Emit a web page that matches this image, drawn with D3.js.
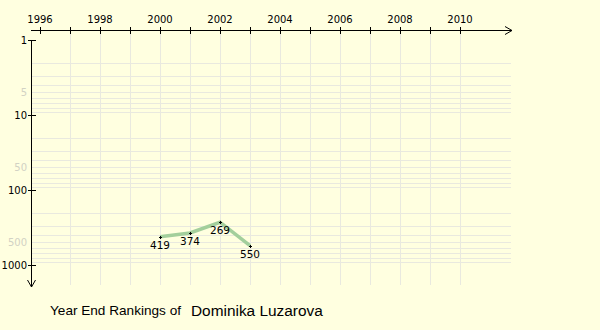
<!DOCTYPE html>
<html><head><meta charset="utf-8">
<script src="https://cdn.jsdelivr.net/npm/d3@7"></script>
<style>body{margin:0;background:#ffffe0;}svg{display:block;}</style>
</head><body>
<script>
const years = [2000, 2001, 2002, 2003];
const ranks = [419, 374, 269, 550];
const yearTicks = [1996, 1998, 2000, 2002, 2004, 2006, 2008, 2010];
const rankTicksMajor = [1, 10, 100, 1000];
const rankTicksMinor = [5, 50, 500];
const playerName = "Dominika Luzarova";
const titleText = "Year End Rankings of";

const W = 600, H = 330;
const svg = d3.select("body").append("svg").attr("width", W).attr("height", H);
svg.append("rect").attr("width", W).attr("height", H).attr("fill", "#ffffe0");

const x = d3.scaleLinear().domain([1996, 2010]).range([40, 460]);
const y = d3.scaleLog().domain([1, 1000]).range([40, 265]);
const axisX = 31, axisY = 30;

// grid
const grid = svg.append("g").attr("stroke", "#e9e9df").attr("stroke-width", 1);
const gridRanks = [];
[1, 10, 100].forEach(d => { for (let k = 2; k <= 9; k++) gridRanks.push(d * k); });
grid.selectAll("line.h").data(gridRanks).join("line")
  .attr("x1", axisX).attr("x2", 511)
  .attr("y1", d => Math.round(y(d)) + 0.5).attr("y2", d => Math.round(y(d)) + 0.5);
grid.selectAll("line.v").data(d3.range(1997, 2011)).join("line")
  .attr("x1", d => Math.round(x(d)) + 0.5).attr("x2", d => Math.round(x(d)) + 0.5)
  .attr("y1", axisY).attr("y2", 285);

// x axis
const gx = svg.append("g").attr("stroke", "#000");
gx.append("line").attr("x1", axisX).attr("x2", 512).attr("y1", axisY + 0.5).attr("y2", axisY + 0.5);
gx.append("path").attr("d", `M505,${axisY - 3.5} L512,${axisY + 0.5} L505,${axisY + 4.5}`).attr("fill", "none");
gx.selectAll("line.t").data(d3.range(1996, 2011)).join("line")
  .attr("x1", d => Math.round(x(d)) + 0.5).attr("x2", d => Math.round(x(d)) + 0.5)
  .attr("y1", axisY - 3).attr("y2", axisY + 4);
svg.append("g").selectAll("text").data(yearTicks).join("text")
  .attr("x", d => x(d)).attr("y", 23).attr("text-anchor", "middle")
  .attr("font-family", "DejaVu Sans, Verdana, sans-serif").attr("font-size", 10)
  .attr("fill", "#000").text(d => d);

// y axis
const gy = svg.append("g").attr("stroke", "#000");
gy.append("line").attr("x1", axisX + 0.5).attr("x2", axisX + 0.5).attr("y1", 40).attr("y2", 287);
gy.append("path").attr("d", `M${axisX - 3.5},280 L${axisX + 0.5},287 L${axisX + 4.5},280`).attr("fill", "none");
gy.selectAll("line.t").data(rankTicksMajor).join("line")
  .attr("x1", axisX - 3).attr("x2", axisX + 5)
  .attr("y1", d => Math.round(y(d)) + 0.5).attr("y2", d => Math.round(y(d)) + 0.5);
svg.append("g").selectAll("text").data(rankTicksMajor).join("text")
  .attr("x", 27).attr("y", d => y(d) + 4).attr("text-anchor", "end")
  .attr("font-family", "DejaVu Sans, Verdana, sans-serif").attr("font-size", 10)
  .attr("fill", "#000").text(d => d);
svg.append("g").selectAll("text").data(rankTicksMinor).join("text")
  .attr("x", 27).attr("y", d => y(d) + 4).attr("text-anchor", "end")
  .attr("font-family", "DejaVu Sans, Verdana, sans-serif").attr("font-size", 10)
  .attr("fill", "#d2d2c4").text(d => d);

// data line
const pts = years.map((yr, i) => ({ yr, r: ranks[i] }));
svg.append("path").datum(pts)
  .attr("d", d3.line().x(d => x(d.yr)).y(d => y(d.r)))
  .attr("fill", "none").attr("stroke", "#a3cf9c").attr("stroke-width", 3.5);
const mk = svg.append("g").attr("stroke", "#000").attr("stroke-width", 1);
mk.selectAll("path").data(pts).join("path")
  .attr("d", d => { const px = Math.round(x(d.yr)) + 0.5, py = Math.round(y(d.r)) + 0.5;
    return `M${px - 1.5},${py}H${px + 1.5}M${px},${py - 1.5}V${py + 1.5}`; });
svg.append("g").selectAll("text").data(pts).join("text")
  .attr("x", d => x(d.yr)).attr("y", d => y(d.r) + 12).attr("text-anchor", "middle")
  .attr("font-family", "DejaVu Sans, Verdana, sans-serif").attr("font-size", 10.5)
  .attr("fill", "#000").text(d => d.r);

// title
svg.append("text").attr("x", 50).attr("y", 315)
  .attr("font-family", "Liberation Sans, Arial, sans-serif").attr("font-size", 13.6)
  .attr("fill", "#000").text(titleText);
svg.append("text").attr("x", 191).attr("y", 316)
  .attr("font-family", "Liberation Sans, Arial, sans-serif").attr("font-size", 15.4)
  .attr("fill", "#000").text(playerName);
</script>
</body></html>
